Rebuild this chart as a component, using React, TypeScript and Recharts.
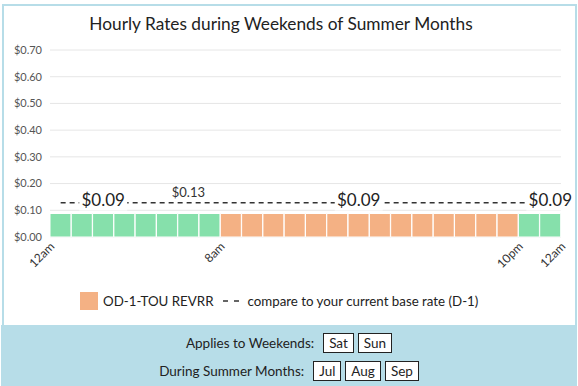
import { ComposedChart, Bar, Line, Cell, XAxis, YAxis, CartesianGrid } from "recharts";

const hourMids = [0.5, 1.5, 2.5, 3.5, 4.5, 5.5, 6.5, 7.5, 8.5, 9.5, 10.5, 11.5, 12.5, 13.5, 14.5, 15.5, 16.5, 17.5, 18.5, 19.5, 20.5, 21.5, 22.5, 23.5];
const rates = [0.088, 0.088, 0.088, 0.088, 0.088, 0.088, 0.088, 0.088, 0.088, 0.088, 0.088, 0.088, 0.088, 0.088, 0.088, 0.088, 0.088, 0.088, 0.088, 0.088, 0.088, 0.088, 0.088, 0.088];
const baseRates = [0.128, 0.128, 0.128, 0.128, 0.128, 0.128, 0.128, 0.128, 0.128, 0.128, 0.128, 0.128, 0.128, 0.128, 0.128, 0.128, 0.128, 0.128, 0.128, 0.128, 0.128, 0.128, 0.128, 0.128];
const periods = ["off", "off", "off", "off", "off", "off", "off", "off", "on", "on", "on", "on", "on", "on", "on", "on", "on", "on", "on", "on", "on", "on", "off", "off"];
const xTicks = [0, 8, 22, 24];
const xTickLabels: Record<number, string> = { 0: "12am", 8: "8am", 22: "10pm", 24: "12am" };
const yTicks = [0, 0.1, 0.2, 0.3, 0.4, 0.5, 0.6, 0.7];
const rateLabelIdx = [2, 14, 23];
const baseLabelIdx = [6];
const weekendDays = ["Sat", "Sun"];
const summerMonths = ["Jul", "Aug", "Sep"];

const colors: Record<string, string> = { off: "#86e0ab", on: "#f4b184" };
const font = "Lato, sans-serif";

const data = hourMids.map((mid, i) => ({ mid, rate: rates[i], base: baseRates[i], period: periods[i] }));

function XTick(props: any) {
  const { x, y, payload } = props;
  return (
    <g transform={`translate(${x + 1},${y - 2})`}>
      <text x={0} y={0} dy={6} textAnchor="end" transform="rotate(-45)" fontSize={12} fill="#333" fontFamily={font}>
        {xTickLabels[payload.value]}
      </text>
    </g>
  );
}

function RateLabel(props: any) {
  const { x, y, value, index } = props;
  if (!rateLabelIdx.includes(index)) return null;
  return (
    <g>
      <rect x={x - 24} y={y - 24} width={48} height={21} fill="#fff" />
      <text x={x} y={y - 7} textAnchor="middle" fontSize={17} fill="#222" fontFamily={font}>
        ${value.toFixed(2)}
      </text>
    </g>
  );
}

function BaseLabel(props: any) {
  const { x, y, value, index } = props;
  if (!baseLabelIdx.includes(index)) return null;
  return (
    <text x={x} y={y - 6} textAnchor="middle" fontSize={13} fill="#333" fontFamily={font}>
      ${value.toFixed(2)}
    </text>
  );
}

const boxStyle = { border: "1px solid #222", background: "#fff", padding: "0 5px", lineHeight: "18px", marginLeft: 4 };

export default function App() {
  return (
    <div style={{ position: "relative", width: 578, height: 386, fontFamily: font, color: "#222", overflow: "hidden" }}>
      <style>{"body{margin:0}"}</style>
      <div style={{ position: "absolute", left: 2, top: 4, width: 571, height: 322, borderLeft: "2px solid #b7dde8", borderTop: "2px solid #b7dde8", borderRight: "2px solid #b7dde8" }} />
      <div style={{ position: "absolute", left: 0, top: 13, width: 562, textAlign: "center", fontSize: 17.3 }}>
        Hourly Rates during Weekends of Summer Months
      </div>
      <div style={{ position: "absolute", left: 0, top: 0 }}>
        <ComposedChart width={578} height={290} data={data} margin={{ top: 50, right: 17, left: 0, bottom: 13 }} barCategoryGap={0} barGap={0}>
          <CartesianGrid vertical={false} stroke="#e6e6e6" />
          <XAxis dataKey="mid" type="number" domain={[0, 24]} ticks={xTicks} axisLine={false} tickLine={false} height={40} tick={<XTick />} interval={0} />
          <YAxis domain={[0, 0.7]} ticks={yTicks} width={50} axisLine={false} tickLine={false} tick={{ fontSize: 11, fill: "#555", fontFamily: font }} tickFormatter={(v: number) => `$${v.toFixed(2)}`} />
          <Bar dataKey="rate" isAnimationActive={false} stroke="#fff" strokeWidth={1}>
            {data.map((d, i) => (
              <Cell key={i} fill={colors[d.period]} />
            ))}
          </Bar>
          <Line dataKey="base" stroke="#333" strokeDasharray="5 4" strokeWidth={1.4} dot={false} activeDot={false} isAnimationActive={false} label={<BaseLabel />} />
          <Line dataKey="rate" stroke="none" dot={false} activeDot={false} isAnimationActive={false} label={<RateLabel />} />
        </ComposedChart>
      </div>
      <div style={{ position: "absolute", left: 80, top: 292, display: "flex", alignItems: "center", fontSize: 13.3, height: 18 }}>
        <span style={{ width: 18, height: 18, background: colors.on, display: "inline-block" }} />
        <span style={{ marginLeft: 5 }}>OD-1-TOU REVRR</span>
        <svg width={16} height={4} style={{ marginLeft: 10 }}>
          <line x1={0} y1={2} x2={16} y2={2} stroke="#333" strokeWidth={1.4} strokeDasharray="5 6" />
        </svg>
        <span style={{ marginLeft: 8 }}>compare to your current base rate (D-1)</span>
      </div>
      <div style={{ position: "absolute", left: 1, top: 325, width: 576, height: 61, background: "#b7dde8", fontSize: 13.5 }}>
        <div style={{ display: "flex", justifyContent: "center", alignItems: "center", marginTop: 8 }}>
          <span style={{ marginRight: 5 }}>Applies to Weekends:</span>
          {weekendDays.map((d) => (
            <span key={d} style={boxStyle}>{d}</span>
          ))}
        </div>
        <div style={{ display: "flex", justifyContent: "center", alignItems: "center", marginTop: 8 }}>
          <span style={{ marginRight: 5 }}>During Summer Months:</span>
          {summerMonths.map((d) => (
            <span key={d} style={boxStyle}>{d}</span>
          ))}
        </div>
      </div>
    </div>
  );
}
